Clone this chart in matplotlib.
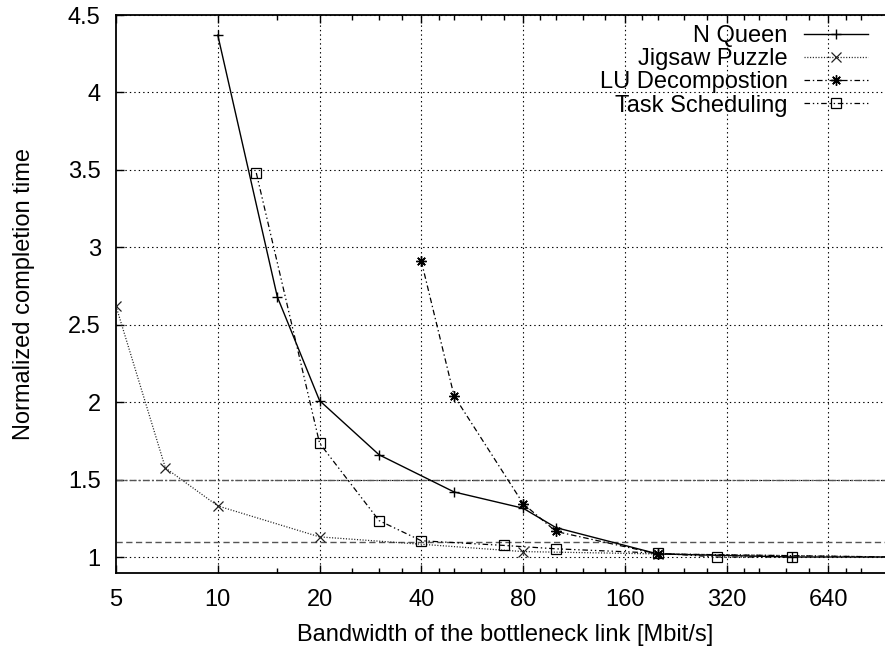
import matplotlib.pyplot as plt
from matplotlib.ticker import FixedLocator, NullFormatter

# Daten
bw_nqueen = [10, 15, 20, 30, 50, 80, 100, 200, 500, 1000]
nqueen = [4.37, 2.68, 2.01, 1.66, 1.42, 1.315, 1.19, 1.02, 1.0, 1.0]

bw_jigsaw = [5, 7, 10, 20, 80, 200, 1000]
jigsaw = [2.62, 1.575, 1.33, 1.13, 1.035, 1.02, 1.0]

bw_lu = [40, 50, 80, 100, 200, 1000]
lu = [2.91, 2.04, 1.345, 1.165, 1.02, 1.0]

bw_task = [13, 20, 30, 40, 70, 100, 200, 300, 500]
task = [3.48, 1.735, 1.235, 1.105, 1.075, 1.053, 1.025, 1.0, 1.0]

ref_lines = [1.5, 1.1]

x_major = [5, 10, 20, 40, 80, 160, 320, 640]
x_minor = [15, 25, 30, 35, 45, 50, 60, 70, 90, 100, 120, 140, 180, 200,
           240, 280, 360, 400, 480, 560, 720, 800]
y_major = [1, 1.5, 2, 2.5, 3, 3.5, 4, 4.5]

plt.rcParams['font.family'] = ['Liberation Sans', 'DejaVu Sans']
plt.rcParams['font.size'] = 17
plt.rcParams['lines.scale_dashes'] = False

fig = plt.figure(figsize=(8.85, 6.47), dpi=100)
W, H = 885, 647
ax = fig.add_axes([116 / W, 1 - 572.5 / H, (894 - 116) / W, (572.5 - 15) / H])

ax.set_xscale('log', base=2)
ax.set_xlim(5, 1000)
ax.set_ylim(0.9, 4.5)

# Gitter
for xv in x_major[1:]:
    ax.axvline(xv, color='black', lw=0.8, ls=(0, (1, 2.2)), zorder=1)
for yv in y_major:
    ax.axhline(yv, color='black', lw=0.8, ls=(0, (1, 2.2)), zorder=1)

# Referenzlinien
ax.axhline(ref_lines[0], color='#555555', lw=1.0, ls=(0, (5, 1.5, 1.5, 1.5)), zorder=2)
ax.axhline(ref_lines[1], color='#555555', lw=1.0, ls=(0, (4.5, 2.5)), zorder=2)

ax.plot(bw_nqueen, nqueen, color='black', lw=1.0, marker='+', ms=7.5,
        mew=1.0, label='N Queen', zorder=4)
ax.plot(bw_jigsaw, jigsaw, color='#222222', lw=0.9, ls=(0, (0.8, 1.2)),
        marker='x', ms=6.5, mew=0.9, label='Jigsaw Puzzle', zorder=4)
ax.plot(bw_lu, lu, color='black', lw=0.9, ls=(0, (4, 2, 1, 2)),
        marker=(8, 2, 0), ms=7.5, mew=1.0, label='LU Decompostion', zorder=4)
ax.plot(bw_task, task, color='black', lw=0.9, ls=(0, (4, 2, 1, 2, 1, 2)),
        marker='s', ms=6.5, mfc='none', mew=0.9, label='Task Scheduling', zorder=4)

ax.xaxis.set_major_locator(FixedLocator(x_major))
ax.xaxis.set_minor_locator(FixedLocator(x_minor))
ax.xaxis.set_minor_formatter(NullFormatter())
ax.set_xticklabels([str(v) for v in x_major])
ax.set_yticks(y_major)
ax.set_yticklabels(['1', '1.5', '2', '2.5', '3', '3.5', '4', '4.5'])

ax.tick_params(which='major', direction='in', length=6, width=1.0,
               top=True, right=True, pad=12)
ax.tick_params(which='minor', direction='in', length=3.5, width=1.0,
               top=True, right=True)
ax.tick_params(axis='y', which='minor', left=False, right=False)
ax.tick_params(axis='y', pad=11)

for s in ax.spines.values():
    s.set_linewidth(1.3)

ax.set_xlabel('Bandwidth of the bottleneck link [Mbit/s]', labelpad=9)
ax.set_ylabel('Normalized completion time', labelpad=24)

leg = ax.legend(loc='upper right', bbox_to_anchor=(868 / W, 1 - 25 / H),
                bbox_transform=fig.transFigure, frameon=False,
                markerfirst=False, handlelength=2.7, handletextpad=0.7,
                labelspacing=0.05, borderpad=0, borderaxespad=0,
                numpoints=1)

fig.savefig('out.png', dpi=100)
